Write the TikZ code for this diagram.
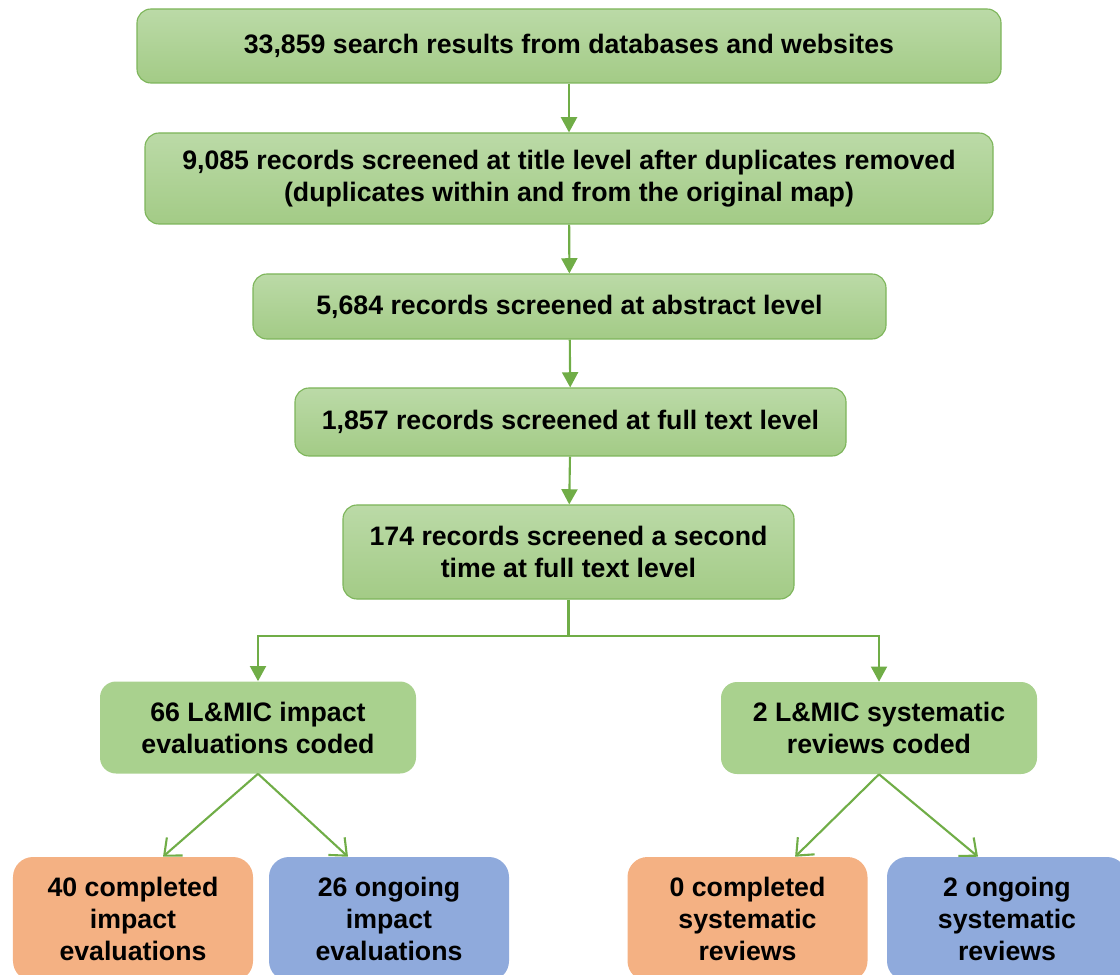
\documentclass[tikz,border=0pt]{standalone}
\usepackage{fontspec}
\setmainfont{Liberation Sans}
\usetikzlibrary{arrows.meta}
\definecolor{greentop}{HTML}{BBDAA7}
\definecolor{greenbot}{HTML}{A3CB86}
\definecolor{boxline}{HTML}{7DB55A}
\definecolor{arrowgreen}{HTML}{70AD47}
\definecolor{flatgreen}{HTML}{A9D18E}
\definecolor{donefill}{HTML}{F4B183}
\definecolor{ongoingfill}{HTML}{8FAADC}
\newcommand{\boxfont}{\fontsize{19}{22.8}\selectfont\bfseries}
\begin{document}
\begin{tikzpicture}
        \tikzstyle{stage} = [draw=boxline, line width=0.8pt, rounded corners=0.35cm, top color=greentop, bottom color=greenbot, align=center, inner sep=0pt, font=\boxfont]
        \tikzstyle{coded} = [fill=flatgreen, rounded corners=0.4cm, align=center, inner sep=0pt, font=\boxfont, minimum width=7.9cm, minimum height=2.3cm]
        \tikzstyle{leaf} = [rounded corners=0.5cm, align=center, inner sep=0pt, font=\boxfont, minimum width=6cm, minimum height=3.1cm]
        \tikzstyle{flow} = [-{Triangle[length=0.38cm, width=0.4cm]}, draw=arrowgreen, line width=1.5pt]
        \tikzstyle{split} = [-{Straight Barb[length=0.35cm, width=0.6cm]}, draw=arrowgreen, line width=1.5pt]
        \useasboundingbox (0,0) rectangle (28,-24.375);
        \node[stage, minimum width=21.6cm, minimum height=1.85cm] (search) at (14.225,-1.15) {33,859 search results from databases and websites};
        \node[stage, minimum width=21.2cm, minimum height=2.275cm] (title) at (14.225,-4.4625) {9,085 records screened at title level after duplicates removed\\(duplicates within and from the original map)};
        \node[stage, minimum width=15.825cm, minimum height=1.625cm] (abstract) at (14.2375,-7.6625) {5,684 records screened at abstract level};
        \node[stage, minimum width=13.775cm, minimum height=1.7cm] (full) at (14.2625,-10.55) {1,857 records screened at full text level};
        \node[stage, minimum width=11.275cm, minimum height=2.35cm] (second) at (14.2125,-13.8) {174 records screened a second\\time at full text level};
        \node[coded] (impact) at (6.45,-18.1875) {66 L\&MIC impact\\evaluations coded};
        \node[coded] (reviews) at (21.975,-18.2) {2 L\&MIC systematic\\reviews coded};
        \node[leaf, fill=donefill] (impactdone) at (3.325,-22.975) {40 completed\\impact\\evaluations};
        \node[leaf, fill=ongoingfill] (impactongoing) at (9.725,-22.975) {26 ongoing\\impact\\evaluations};
        \node[leaf, fill=donefill] (reviewsdone) at (18.6875,-22.975) {0 completed\\systematic\\reviews};
        \node[leaf, fill=ongoingfill] (reviewsongoing) at (25.175,-22.975) {2 ongoing\\systematic\\reviews};
        \coordinate (fork) at (14.2125,-15.9);
        \draw[flow] (search) -- (title);
        \draw[flow] (title) -- (abstract);
        \draw[flow] (abstract) -- (full);
        \draw[flow] (full) -- (second);
        \draw[draw=arrowgreen, line width=1.5pt] (second) -- (fork);
        \draw[flow] (fork) -| (impact);
        \draw[flow] (fork) -| (reviews);
        \draw[split] (impact.south) -- ([xshift=0.75cm]impactdone.north);
        \draw[split] (impact.south) -- ([xshift=-1.025cm]impactongoing.north);
        \draw[split] (reviews.south) -- ([xshift=1.19cm]reviewsdone.north);
        \draw[split] (reviews.south) -- ([xshift=-0.725cm]reviewsongoing.north);
      \end{tikzpicture}
\end{document}
